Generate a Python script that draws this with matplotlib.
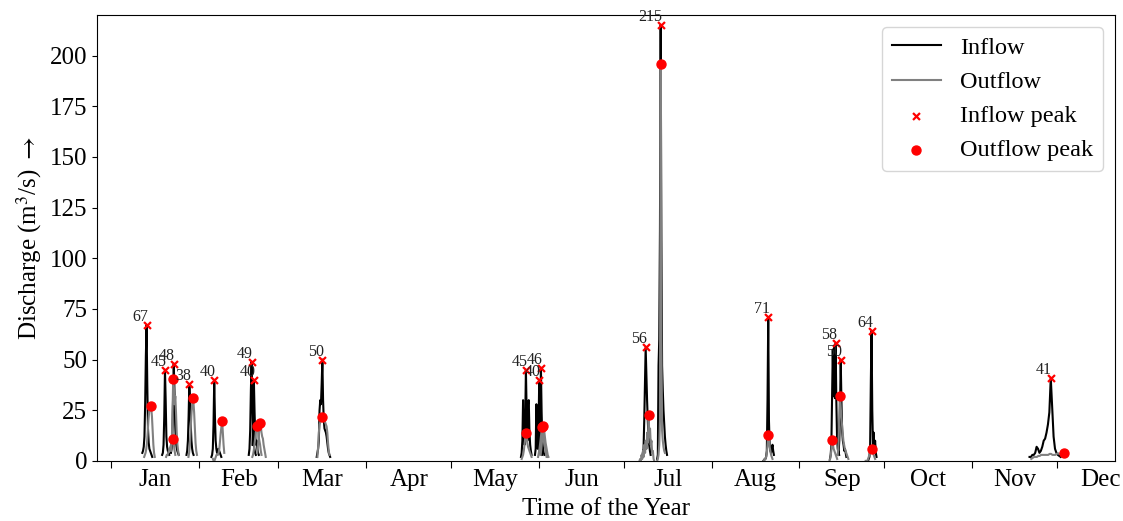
import numpy as np
import matplotlib
matplotlib.use("Agg")
import matplotlib.pyplot as plt
from matplotlib.ticker import FixedLocator, NullFormatter, FixedFormatter

plt.rcParams['font.family'] = ['Liberation Serif', 'DejaVu Serif']
plt.rcParams['mathtext.fontset'] = 'stix'

# day of year (0 = 1 Jan) where each event's series begins, and the time step (days)
in_start = [10.9, 17.9, 21.0, 26.5, 35.3, 48.5, 49.8, 72.5, 144.65, 149.6, 151.2,
            187.45, 192.75, 230.25, 253.8, 256.85, 266.5, 324.3]
out_start = [11.55, 19.3, 21.05, 27.2, 35.85, 49.75, 51.5, 72.75, 144.9, 150.7, 151.6,
             186.5, 192.75, 230.25, 253.6, 256.55, 266.5, 324.9]
step = [0.25] * 17 + [0.5]

# inflow hydrographs (m3/s)
inflow = [
    [4, 5, 7, 12, 28, 52, 67, 38, 16, 9, 6, 5, 4, 3, 2],
    [3, 4, 8, 22, 45, 30, 12, 7, 5, 4, 3],
    [4, 6, 12, 30, 48, 35, 18, 10, 7, 5, 4, 3],
    [3, 5, 10, 22, 38, 30, 18, 10, 6, 4, 3],
    [2, 3, 6, 18, 40, 22, 10, 6, 4, 5, 6, 5, 4, 3, 2],
    [3, 6, 15, 35, 49, 30, 14, 8, 6, 4, 3],
    [8, 20, 40, 24, 12, 8, 10, 6, 4, 3],
    [2, 4, 6, 10, 25, 30, 28, 38, 50, 30, 20, 16, 15, 14, 12, 9, 6, 4, 3, 2],
    [2, 4, 10, 30, 12, 8, 20, 45, 25, 10, 28, 30, 14, 8, 5, 3],
    [3, 6, 28, 12, 6, 15, 40, 20, 8, 5, 3],
    [4, 12, 46, 24, 10, 6, 4, 3],
    [2, 4, 6, 20, 38, 56, 42, 30, 20, 12, 8, 5, 3],
    [1, 3, 47, 60, 114, 215, 110, 47, 35, 25, 18, 12, 8, 5, 3],
    [0, 0, 1, 1, 2, 5, 30, 71, 20, 8, 5, 4, 6, 8, 5, 3],
    [1, 3, 8, 30, 55, 32, 57, 31, 58, 30, 12, 6, 4, 3],
    [4, 10, 25, 50, 30, 15, 10, 8, 5, 6, 4, 2],
    [0, 0, 0, 0, 1, 2, 8, 40, 64, 25, 8, 14, 6, 10, 4, 2],
    [2, 2, 3, 3, 4, 7, 6, 4, 5, 7, 10, 11, 14, 18, 24, 41, 26, 12, 6, 4, 3, 2.5, 2],
]

# outflow hydrographs (m3/s)
outflow = [
    [2, 3, 4, 6, 9, 14, 20, 24, 26, 27, 26, 22, 15, 8, 4, 2],
    [2, 3, 3, 4, 5, 6, 7, 8, 9, 10, 11, 8, 5, 3],
    [5, 10, 22, 40.5, 36, 28, 32, 24, 14, 8, 5, 3],
    [2, 4, 8, 15, 22, 27, 31, 29, 24, 16, 9, 5, 3],
    [1, 0, 0, 1, 2, 3, 3, 3, 4, 6, 10, 14, 17, 19.7, 14, 8, 4],
    [2, 3, 5, 8, 11, 14, 16, 17.5, 15, 12, 10, 8, 5, 3],
    [4, 8, 12, 16, 18.5, 17, 14, 12, 11, 8, 6, 4, 2],
    [2, 7, 14, 18, 19, 20, 21, 21.8, 21, 20, 20, 19, 18, 17, 14, 9, 5, 3],
    [1, 2, 3, 5, 8, 11, 14, 12, 9, 7, 6, 5, 4, 3, 2],
    [2, 4, 6, 9, 12, 15, 16.8, 14, 11, 8, 6, 4, 2],
    [3, 6, 10, 14, 17.2, 15, 12, 9, 7, 5, 3, 2],
    [0, 1, 0, 3, 1, 5, 2, 8, 4, 10, 6, 14, 9, 22.5, 12, 16, 8, 10, 4, 5, 1, 0],
    [0, 1, 3, 8, 20, 196, 60, 15, 10, 7, 5, 4],
    [0, 0, 1, 1, 2, 4, 8, 12.8, 10, 7, 5, 3, 2, 1],
    [0, 1, 3, 6, 10.5, 8, 6, 5, 4, 3, 2, 1],
    [3, 8, 20, 32, 28, 22, 18, 14, 10, 8, 6, 5, 4, 3, 2, 1],
    [0, 0, 0, 1, 2, 3, 4, 5, 5.8, 5, 4, 3, 2, 1],
    [1, 1.5, 2, 2, 2, 2.5, 2.5, 3, 3, 3, 3, 3, 3, 3.5, 3.5, 3, 3, 3, 3.5, 3.8, 3.5, 3.5, 3.8, 4],
]

month_start = [0, 31, 59, 90, 120, 151, 181, 212, 243, 273, 304, 334, 365]
month_names = ['Jan', 'Feb', 'Mar', 'Apr', 'May', 'Jun',
               'Jul', 'Aug', 'Sep', 'Oct', 'Nov', 'Dec']


def series(starts, values):
    xs, ys = [], []
    for t0, dt, v in zip(starts, step, values):
        xs.append(t0 + dt * np.arange(len(v)))
        ys.append(np.array(v, dtype=float))
        xs.append([np.nan])
        ys.append([np.nan])
    return np.concatenate(xs), np.concatenate(ys)


def peaks(starts, values):
    px, py = [], []
    for t0, dt, v in zip(starts, step, values):
        i = int(np.argmax(v))
        px.append(t0 + dt * i)
        py.append(v[i])
    return np.array(px), np.array(py)


fig = plt.figure(figsize=(11.23, 5.21), dpi=100)
ax = fig.add_subplot(111)
fig.subplots_adjust(left=0.0864, right=0.9929, top=0.9712, bottom=0.1152)

x_in, y_in = series(in_start, inflow)
x_out, y_out = series(out_start, outflow)
ax.plot(x_in, y_in, color='black', lw=1.5, label='Inflow')
ax.plot(x_out, y_out, color='grey', lw=1.5, label='Outflow')

pk_in_x, pk_in_y = peaks(in_start, inflow)
pk_out_x, pk_out_y = peaks(out_start, outflow)
ax.scatter(pk_in_x, pk_in_y, marker='x', color='red', s=25, linewidths=1.6,
           zorder=5, label='Inflow peak')
ax.scatter(pk_out_x, pk_out_y, marker='o', color='red', s=42,
           zorder=5, label='Outflow peak')
for xx, yy in zip(pk_in_x, pk_in_y):
    ax.text(xx + 0.5, yy, str(int(round(yy))), ha='right', va='bottom',
            fontsize=11.5, color='#222222', zorder=6)

ax.set_xlim(-5.1, 354.5)
ax.set_ylim(0, 220)
ax.set_yticks(np.arange(0, 201, 25))

mids = [(a + b) / 2 for a, b in zip(month_start[:-1], month_start[1:])]
ax.xaxis.set_major_locator(FixedLocator(month_start[:-1]))
ax.xaxis.set_major_formatter(NullFormatter())
ax.xaxis.set_minor_locator(FixedLocator(mids))
ax.xaxis.set_minor_formatter(FixedFormatter(month_names))
ax.tick_params(axis='x', which='minor', length=0, labelsize=18, pad=6)
ax.tick_params(axis='x', which='major', length=5)
ax.tick_params(axis='y', labelsize=18)

ax.set_xlabel('Time of the Year', fontsize=18, labelpad=5)
ax.set_ylabel(r'Discharge (m$^3$/s) $\rightarrow$', fontsize=18, labelpad=4)

ax.legend(loc='upper right', fontsize=17.5)

fig.savefig('out.png', dpi=100)
